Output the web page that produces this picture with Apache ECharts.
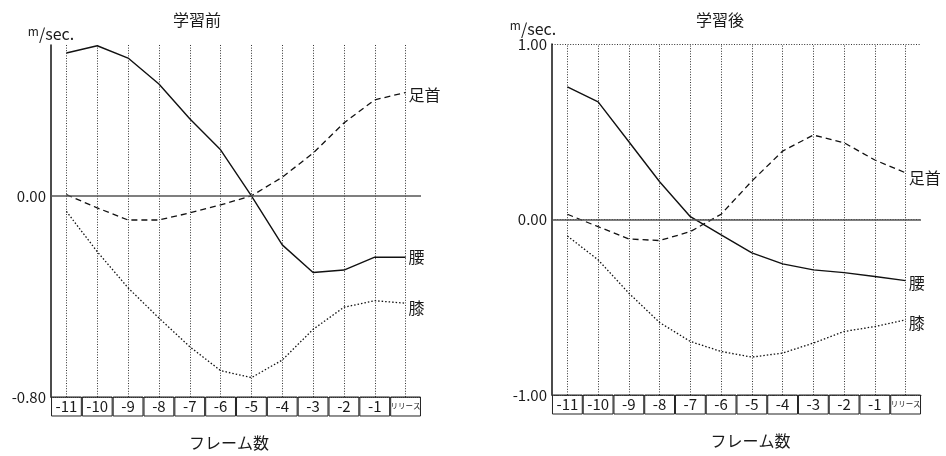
<!DOCTYPE html>
<html><head><meta charset="utf-8">
<script src="https://cdn.jsdelivr.net/npm/echarts@6/dist/echarts.min.js"></script>
<style>html,body{margin:0;padding:0;background:#fff}#c{width:946px;height:456px}</style>
</head><body><div id="c"></div>
<script>
const categories = ['-11','-10','-9','-8','-7','-6','-5','-4','-3','-2','-1','リリース'];
const beforeWaist = [0.568,0.597,0.548,0.445,0.307,0.183,0.0,-0.195,-0.305,-0.295,-0.244,-0.244];
const beforeAnkle = [0.005,-0.048,-0.096,-0.096,-0.068,-0.036,0.0,0.074,0.17,0.29,0.382,0.411];
const beforeKnee  = [-0.062,-0.222,-0.366,-0.486,-0.6,-0.695,-0.723,-0.653,-0.531,-0.443,-0.417,-0.427];
const afterWaist = [0.756,0.67,0.443,0.215,0.016,-0.088,-0.19,-0.253,-0.287,-0.303,-0.325,-0.348];
const afterAnkle = [0.03,-0.041,-0.111,-0.12,-0.069,0.03,0.219,0.39,0.481,0.437,0.339,0.266];
const afterKnee  = [-0.094,-0.23,-0.42,-0.587,-0.695,-0.752,-0.784,-0.761,-0.704,-0.638,-0.61,-0.572];
const titles = ['学習前','学習後'];
const xName = 'フレーム数';
const names = {waist:'腰', ankle:'足首', knee:'膝'};

const FONT = '"Noto Sans CJK JP", "Noto Sans", sans-serif';
const INK = '#1a1a1a';

function xAxisOf(idx, namePad, gridH) {
  return {
    type:'category', gridIndex: idx, data: categories, boundaryGap: true,
    axisLine:{show:true, onZero:false, lineStyle:{color:'#444', type:'dotted', width:1}},
    axisTick:{show:true, inside:true, alignWithLabel:true, length:gridH, lineStyle:{color:'#333', type:[1,1.6], width:1}},
    splitLine:{show:false},
    axisLabel:{
      interval:0, margin:0, fontFamily: FONT, color: INK,
      formatter: v => v === 'リリース' ? '{s|' + v + '}' : '{n|' + v + '}',
      rich:{
        n:{width:29.8, height:19, lineHeight:19, align:'center', fontSize:15, fontFamily: FONT, color: INK, borderColor:'#222', borderWidth:1},
        s:{width:29.8, height:19, lineHeight:19, align:'center', fontSize:7.5, fontFamily: FONT, color: INK, borderColor:'#222', borderWidth:1}
      }
    },
    name: xName, nameLocation:'middle', nameGap: 38,
    nameTextStyle:{fontSize:16, fontFamily: FONT, color: INK, padding: namePad}
  };
}

function yAxisOf(idx, min, max, interval, fmt, namePad, nameGap, split) {
  return {
    type:'value', gridIndex: idx, min, max, interval,
    axisLine:{show:true, onZero:false, lineStyle:{color:'#111', width:1.5}},
    axisTick:{show:false},
    splitLine:{show: split, lineStyle:{color:'#333', type:[1,1.6], width:1}},
    axisLabel:{formatter: fmt, fontSize:15, fontFamily: FONT, color: INK, margin:5},
    name: '{m|m}{s|/sec.}', nameLocation:'end', nameGap: nameGap,
    nameTextStyle:{fontFamily: FONT, color: INK, padding: namePad,
      rich:{m:{fontSize:12, fontFamily: FONT, color: INK, verticalAlign:'top', padding:[0,0,6,0]}, s:{fontSize:16, fontFamily: FONT, color: INK}}}
  };
}

function lineSeries(name, data, idx, type, width, offset, withZero) {
  const s = {
    name, type:'line', xAxisIndex: idx, yAxisIndex: idx, data,
    symbol:'none', smooth:false, silent:true, animation:false,
    lineStyle:{color:'#111', width, type},
    endLabel:{show:true, formatter:'{a}', fontSize:16, fontFamily: FONT, color: INK, offset, distance:3}
  };
  if (withZero) {
    s.markLine = {silent:true, symbol:'none', animation:false, label:{show:false},
      lineStyle:{color:'#555', type:'solid', width:1.5}, data:[{yAxis:0}]};
  }
  return s;
}

const chart = echarts.init(document.getElementById('c'));
chart.setOption({
  animation:false,
  backgroundColor:'#fff',
  title:[
    {text: titles[0], left:192, textAlign:'center', top:7, textStyle:{fontSize:16, fontWeight:'normal', fontFamily: FONT, color: INK}},
    {text: titles[1], left:715, textAlign:'center', top:7, textStyle:{fontSize:16, fontWeight:'normal', fontFamily: FONT, color: INK}}
  ],
  grid:[
    {left:51, right:525, top:45, bottom:59, containLabel:false},
    {left:552, right:25, top:44, bottom:61, containLabel:false}
  ],
  xAxis:[ xAxisOf(0, [0,14,0,0], 352), xAxisOf(1, [0,0,0,28], 351) ],
  yAxis:[
    yAxisOf(0, -0.8, 0.6, 0.2, v => Math.abs(v) < 1e-9 ? '0.00' : (Math.abs(v + 0.8) < 1e-9 ? '-0.80' : ''), [0,0,0,0], 2, false),
    yAxisOf(1, -1, 1, 1, v => v.toFixed(2), [0,38,0,0], 6, true)
  ],
  series:[
    lineSeries(names.waist, beforeWaist, 0, 'solid', 1.4, [0,0], true),
    lineSeries(names.ankle, beforeAnkle, 0, [6,4], 1.3, [0,2], false),
    lineSeries(names.knee, beforeKnee, 0, [1.5,2], 1.3, [0,5], false),
    lineSeries(names.waist, afterWaist, 1, 'solid', 1.4, [0,2], true),
    lineSeries(names.ankle, afterAnkle, 1, [6,4], 1.3, [0,5], false),
    lineSeries(names.knee, afterKnee, 1, [1.5,2], 1.3, [0,3], false)
  ]
});
</script>
</body></html>
